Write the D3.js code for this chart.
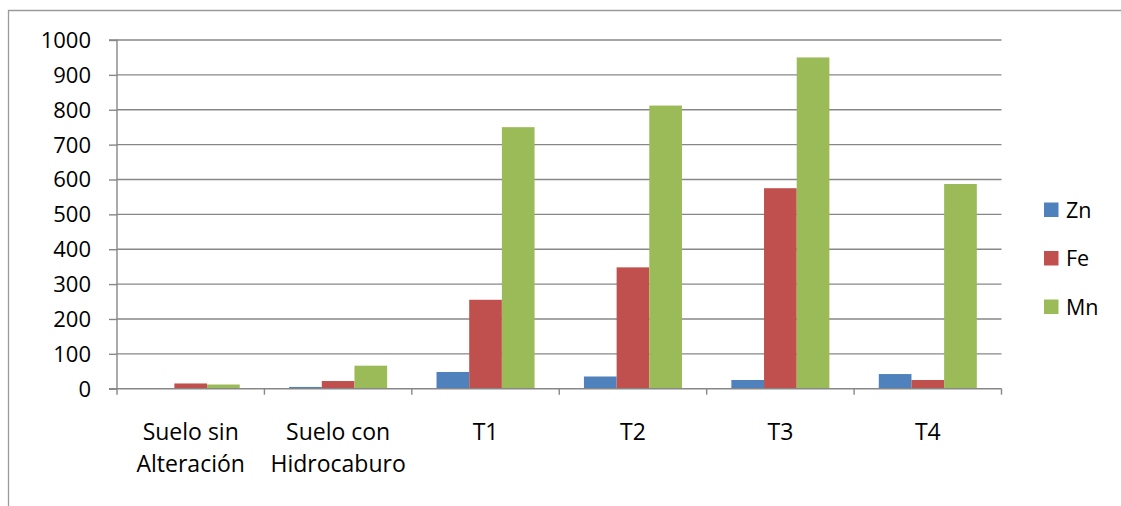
<!DOCTYPE html>
<html>
<head>
<meta charset="utf-8">
<script src="https://cdn.jsdelivr.net/npm/d3@7"></script>
<style>
  html, body { margin: 0; padding: 0; background: #ffffff; }
  svg { display: block; }
  text { font-family: "Open Sans", "Noto Sans", sans-serif; fill: #000; }
</style>
</head>
<body>
<svg id="chart" width="1121" height="506"></svg>
<script>
// Categories (two-line labels) and metal concentrations per sample
const categories = ["Suelo sin Alteración", "Suelo con Hidrocaburo", "T1", "T2", "T3", "T4"];
const categoryLines = [["Suelo sin", "Alteración"], ["Suelo con", "Hidrocaburo"], ["T1"], ["T2"], ["T3"], ["T4"]];
const seriesNames = ["Zn", "Fe", "Mn"];
const zn = [0, 5, 48, 35, 25, 42];
const fe = [15, 22, 255, 348, 575, 25];
const mn = [12, 66, 750, 812, 950, 587];
const yTicks = [0, 100, 200, 300, 400, 500, 600, 700, 800, 900, 1000];
const colors = ["#4F81BD", "#C0504D", "#9BBB59"];

const seriesValues = [zn, fe, mn];
const rows = categories.map((c, i) => ({
  category: c,
  values: seriesNames.map((s, k) => ({ series: s, value: seriesValues[k][i] }))
}));

const svg = d3.select("#chart");
const plot = { left: 117, right: 1001.5, top: 40, bottom: 388.7 };
const gridColor = "#878787";

// Outer chart frame (top and left edges visible)
svg.append("path")
  .attr("d", `M8.5,506 L8.5,10.5 L1121,10.5`)
  .attr("fill", "none")
  .attr("stroke", "#9a9a9a")
  .attr("stroke-width", 1.3);

const x0 = d3.scaleBand().domain(categories).range([plot.left, plot.right]).paddingInner(0).paddingOuter(0);
const groupInner = 0.665;
const x1 = d3.scaleBand().domain(seriesNames)
  .range([0, x0.bandwidth() * groupInner]);
const groupOffset = x0.bandwidth() * (1 - groupInner) / 2;

const y = d3.scaleLinear().domain([0, 1000]).range([plot.bottom, plot.top]);

// Horizontal gridlines
svg.append("g")
  .selectAll("line")
  .data(yTicks.filter(t => t > 0))
  .join("line")
  .attr("x1", plot.left)
  .attr("x2", plot.right)
  .attr("y1", d => y(d))
  .attr("y2", d => y(d))
  .attr("stroke", gridColor)
  .attr("stroke-width", 1.4);

// Y axis
const yAxis = d3.axisLeft(y).tickValues(yTicks).tickSize(8).tickPadding(18).tickFormat(d3.format("d"));
const gy = svg.append("g").attr("transform", `translate(${plot.left},0)`).call(yAxis);
gy.select(".domain").attr("stroke", gridColor).attr("stroke-width", 1.4)
  .attr("d", `M-8,${plot.top}H0V${plot.bottom + 6}`);
gy.selectAll(".tick line").attr("stroke", gridColor).attr("stroke-width", 1.4);
gy.selectAll(".tick text")
  .style("font-family", '"Open Sans", sans-serif')
  .style("font-size", "22px")
  .attr("fill", "#000")
  .attr("dy", "0.34em");

// Bars
const groups = svg.append("g")
  .selectAll("g")
  .data(rows)
  .join("g")
  .attr("transform", d => `translate(${x0(d.category) + groupOffset},0)`);

groups.selectAll("rect")
  .data(d => d.values)
  .join("rect")
  .attr("x", d => x1(d.series))
  .attr("width", x1.bandwidth())
  .attr("y", d => y(d.value))
  .attr("height", d => y(0) - y(d.value))
  .attr("fill", (d, i) => colors[i]);

// X axis baseline with category boundary ticks
svg.append("line")
  .attr("x1", plot.left - 8).attr("x2", plot.right)
  .attr("y1", y(0)).attr("y2", y(0))
  .attr("stroke", gridColor).attr("stroke-width", 1.4);

const boundaries = categories.map(c => x0(c) + x0.bandwidth());
svg.append("g")
  .selectAll("line")
  .data(boundaries)
  .join("line")
  .attr("x1", d => d).attr("x2", d => d)
  .attr("y1", y(0)).attr("y2", y(0) + 6)
  .attr("stroke", gridColor).attr("stroke-width", 1.4);

// Category labels
const labels = svg.append("g")
  .selectAll("text")
  .data(rows)
  .join("text")
  .attr("text-anchor", "middle")
  .style("font-size", "23px")
  .attr("transform", d => `translate(${x0(d.category) + x0.bandwidth() / 2},440)`);

labels.selectAll("tspan")
  .data((d, i) => categoryLines[i])
  .join("tspan")
  .attr("x", 0)
  .attr("y", (d, i) => i * 31.5)
  .text(d => d);

// Legend
const legend = svg.append("g")
  .selectAll("g")
  .data(seriesNames)
  .join("g")
  .attr("transform", (d, i) => `translate(1044,${210 + i * 48.5})`);

legend.append("rect")
  .attr("x", 0).attr("y", -7.5)
  .attr("width", 14.5).attr("height", 14.5)
  .attr("fill", (d, i) => colors[i]);

legend.append("text")
  .attr("x", 22)
  .attr("y", 0)
  .attr("dy", "0.36em")
  .style("font-size", "21.5px")
  .text(d => d);
</script>
</body>
</html>
